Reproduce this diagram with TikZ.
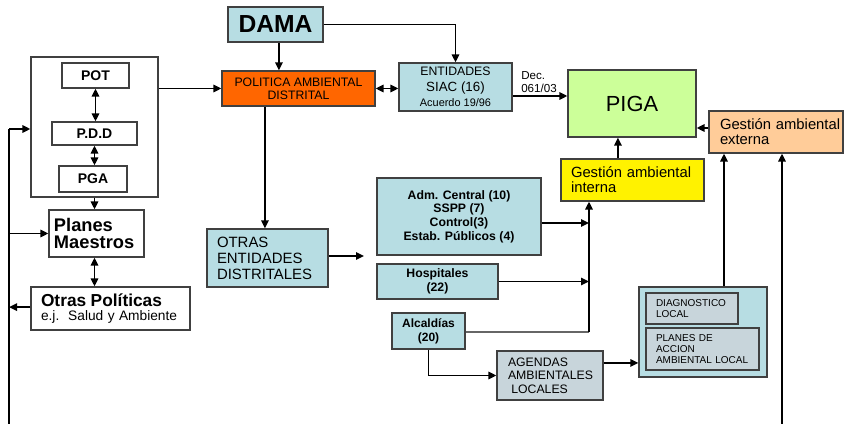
\documentclass[tikz,border=0pt]{standalone}
\usepackage{fontspec}
\setmainfont{Liberation Sans}
\usetikzlibrary{arrows.meta}
\newcommand\fsz[2]{\fontsize{#1pt}{#2pt}\selectfont}
\definecolor{lblue}{RGB}{183,221,227}
\definecolor{lgray}{RGB}{200,213,219}
\definecolor{orng}{RGB}{255,102,0}
\definecolor{lgreen}{RGB}{204,255,153}
\definecolor{peach}{RGB}{255,204,153}
\definecolor{edge}{RGB}{64,64,64}
\tikzset{
  wh/.style 2 args={minimum width=#1*0.75pt, minimum height=#2*0.75pt},
  box/.style={draw=edge, line width=0.9pt, inner sep=0pt, align=center},
  lbox/.style n args={3}{draw=edge, line width=0.9pt, inner ysep=0pt, inner xsep=#3*0.75pt,
     text width=(#1-2*#3)*0.75pt, minimum height=#2*0.75pt, align=left},
  arr/.style={line width=1.4pt, -{Triangle[length=6pt,width=5.5pt]}},
  darr/.style={line width=1.4pt, {Triangle[length=6pt,width=5.5pt]}-{Triangle[length=6pt,width=5.5pt]}},
  ln/.style={line width=1.4pt},
}
\begin{document}
\begin{tikzpicture}[x=0.75pt,y=-0.75pt]
\useasboundingbox (0,0) rectangle (844,424);
% left group
\node[box, wh={127}{140}, fill=white] (outer) at (94.5,127) {};
\node[box, wh={67}{25}, font=\fsz{10.5}{12}\bfseries] (pot) at (95.5,75.5) {POT};
\node[box, wh={85}{23}, font=\fsz{10.5}{12}\bfseries] (pdd) at (94.5,133.5) {P.D.D};
\node[box, wh={68}{26}, font=\fsz{10.5}{12}\bfseries] (pga) at (93,179) {PGA};
\node[lbox={95}{47}{5}, font=\fsz{13.7}{12.8}\bfseries] (planes) at (96.5,233.5) {Planes\\Maestros};
\node[lbox={159}{43}{10}, fill=white] (otras) at (110.5,308.5)
  {\fsz{13}{13}\bfseries Otras Políticas\\[-1pt]\fsz{10.3}{12}\mdseries e.j.\ \ Salud y Ambiente};
% top
\node[box, wh={95}{35}, fill=lblue, font=\fsz{18.5}{20}\bfseries] (dama) at (275.5,24.5) {DAMA};
\node[box, wh={153}{35}, fill=orng, font=\fsz{9.2}{10}] (pol) at (298.5,88.5) {POLITICA AMBIENTAL\\DISTRITAL};
\node[box, wh={113}{48}, fill=lblue] (ent) at (455.5,87)
  {\fsz{9.2}{10.7}ENTIDADES\\SIAC (16)\\[-1pt]\fsz{8.2}{9}Acuerdo 19/96};
\node[box, wh={128}{67}, fill=lgreen, font=\fsz{16.4}{18}] (piga) at (632,103.5) {PIGA};
\node[lbox={134}{42}{11}, fill=peach, font=\fsz{11.1}{11.3}] (ext) at (776,132) {\mbox{Gestión ambiental}\\externa};
\node[lbox={143}{42}{10}, fill=yellow, font=\fsz{11.1}{11.3}] (int) at (632.5,180) {\mbox{Gestión ambiental}\\interna};
\node[anchor=west, align=left, inner sep=0pt, font=\fsz{8.7}{10}] (dec) at (521,82) {Dec.\\061/03};
% middle
\node[lbox={121}{58}{10}, fill=lblue, font=\fsz{11.2}{11.9}] (oe) at (267.5,258) {OTRAS\\ENTIDADES\\DISTRITALES};
\node[box, wh={164}{77}, fill=lblue, font=\fsz{9.2}{10.3}\bfseries] (adm) at (459,216.5)
  {Adm. Central (10)\\SSPP (7)\\Control(3)\\Estab. Públicos (4)};
\node[box, wh={121}{35}, fill=lblue, font=\fsz{9.2}{10.5}\bfseries] (hosp) at (437.5,281.5) {Hospitales\\(22)};
\node[box, wh={73}{36}, fill=lblue, font=\fsz{9}{10.5}\bfseries] (alc) at (428.5,331) {Alcaldías\\(20)};
\node[lbox={106}{49}{11}, fill=lgray, font=\fsz{9.2}{10}] (ag) at (550,375.5) {AGENDAS\\AMBIENTALES\\\hspace*{2.5pt}LOCALES};
\node[box, wh={128}{90}, fill=lblue] (grp) at (703,332) {};
\node[lbox={92}{31}{10}, fill=lgray, font=\fsz{7.5}{8.3}] (diag) at (692,308.5) {DIAGNOSTICO\\LOCAL};
\node[lbox={113}{42}{10}, fill=lgray, font=\fsz{7.5}{8.4}] (pac) at (702.5,349) {PLANES DE\\ACCION\\AMBIENTAL LOCAL};
% coordinates
\coordinate (L0) at (9,424);
\coordinate (L1) at (9,129);
\coordinate (R0) at (782,424);
\coordinate (bus) at (589,332);
\coordinate (busA) at (589,223);
\coordinate (oeend) at (364,256);
% connectors left group
\draw[darr] (pot.south) -- (pot.south |- pdd.north);
\draw[darr] (pdd.south) -- (pdd.south |- pga.north);
\draw[arr] (outer.south) -- (outer.south |- planes.north);
\draw[darr] (planes.south -| outer.south) -- (outer.south |- otras.north);
\draw[ln] (L0) -- (L1);
\draw[arr] (L1) -- (L1 -| outer.west);
\draw[arr] (L0 |- planes.west) -- (planes.west);
\draw[arr] ([yshift=1pt]otras.west) -- ([yshift=1pt]otras.west -| L0);
\draw[arr] (outer.east |- pol.west) -- (pol.west);
% top connectors
\draw[arr] ([xshift=2.6pt]dama.south) -- ([xshift=2.6pt]dama.south |- pol.north);
\draw[arr] (dama.east) -| (ent.north);
\draw[darr] (pol.east) -- (pol.east -| ent.west);
\draw[arr] ([yshift=-6.75pt]ent.east) -- ([yshift=-6.75pt]ent.east -| piga.west);
\draw[arr] ([yshift=3pt]ext.west) -- ([yshift=3pt]ext.west -| piga.east);
\draw[arr] ([xshift=-10.9pt]int.north) -- ([xshift=-10.9pt]int.north |- piga.south);
\draw[arr] ([xshift=15.75pt]grp.north) -- ([xshift=15.75pt]grp.north |- ext.south);
\draw[arr] (R0) -- (R0 |- ext.south);
% middle connectors
\draw[arr] ([xshift=-1.9pt]oe.north |- pol.south) -- ([xshift=-1.9pt]oe.north);
\draw[arr] (oe.east |- oeend) -- (oeend);
\draw[line width=1pt, draw=black!60] (alc.east |- bus) -- (bus);
\draw[arr] (bus) -- (bus |- int.south);
\draw[arr] (adm.east |- busA) -- (busA);
\draw[arr] (hosp.east) -- (hosp.east -| bus);
\draw[arr] (alc.south) |- (ag.west);
\draw[arr] ([yshift=9.4pt]ag.east) -- ([yshift=9.4pt]ag.east -| grp.west);
\end{tikzpicture}
\end{document}
